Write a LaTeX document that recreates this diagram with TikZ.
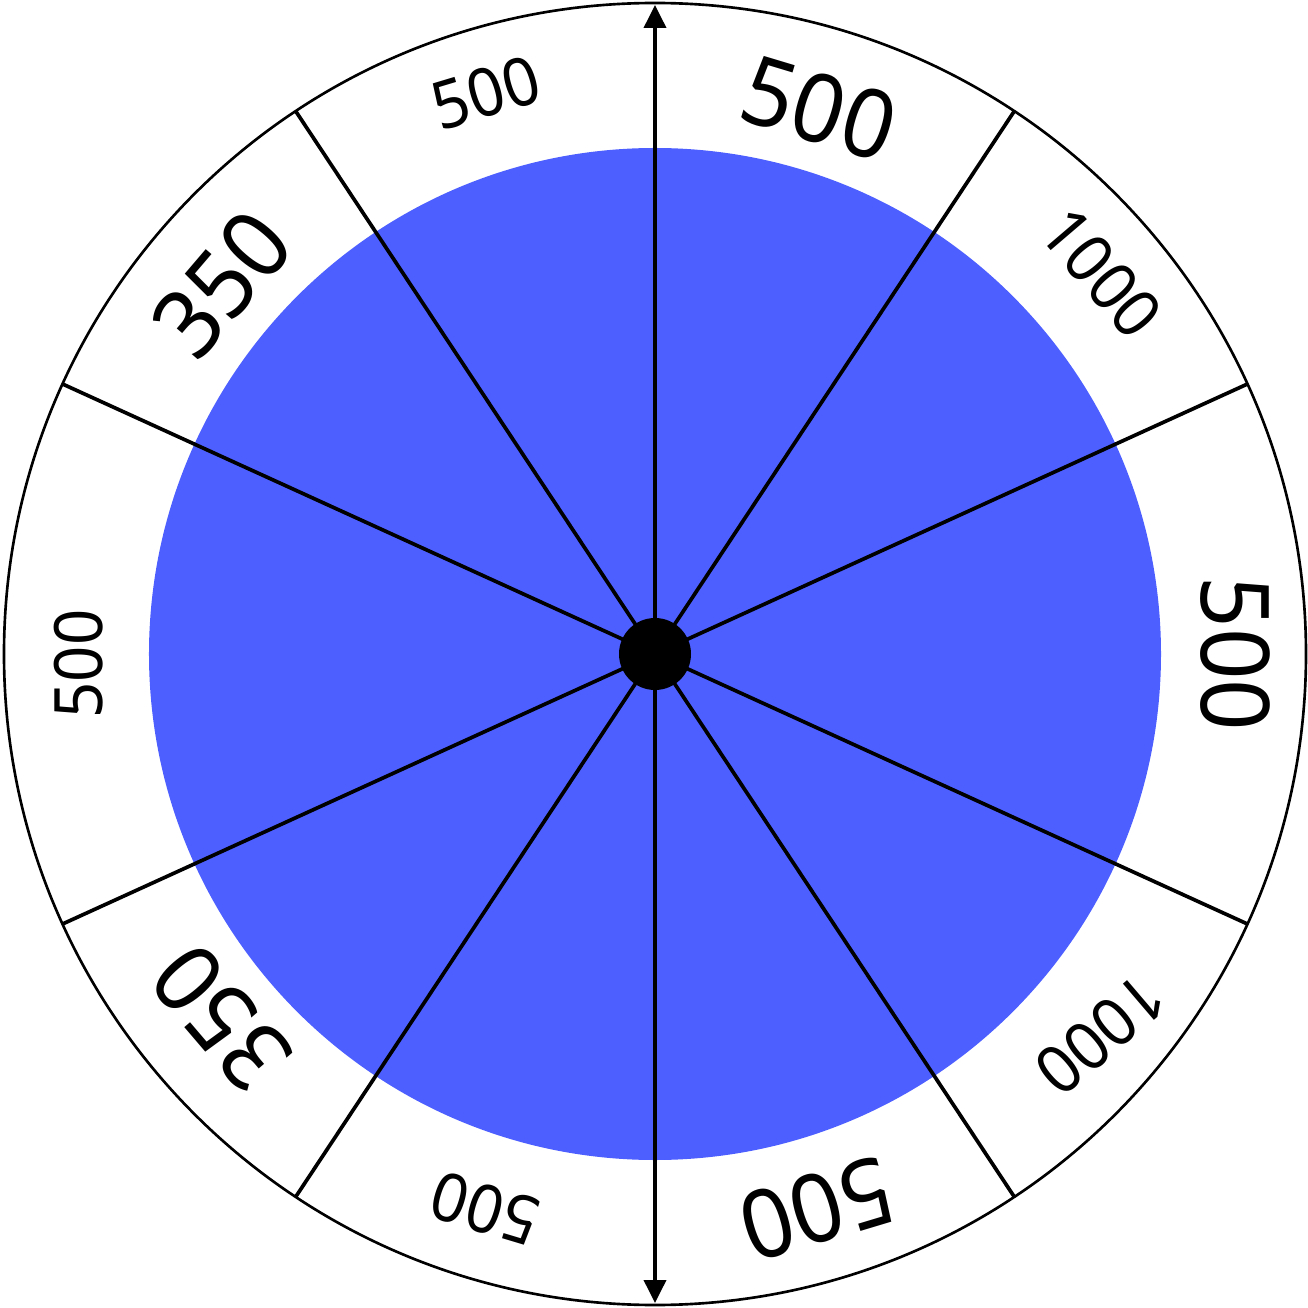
\documentclass[tikz,border=0pt]{standalone}
\usepackage{fontspec}
\setmainfont{Noto Sans}
\usetikzlibrary{arrows.meta}
\definecolor{wheelblue}{RGB}{77,96,255}

\begin{document}
\begin{tikzpicture}[
  spoke/.style={black, line width=1.05pt},
  bignum/.style={font=\fontsize{27}{27}\selectfont, inner sep=0pt},
  smallnum/.style={font=\fontsize{19}{19}\selectfont, inner sep=0pt}]
  \useasboundingbox (-6.55,-6.54) rectangle (6.53,6.54);
  \fill[wheelblue] (0,0) circle (5.06);
  \draw[black, line width=0.75pt] (0,0) circle (6.51);
  \coordinate (n) at (90:6.49);
  \coordinate (s) at (270:6.49);
  \coordinate (ne) at (56.5:6.51);
  \coordinate (sw) at (236.5:6.51);
  \coordinate (nw) at (123.5:6.51);
  \coordinate (se) at (303.5:6.51);
  \coordinate (ene) at (24.5:6.51);
  \coordinate (wsw) at (204.5:6.51);
  \coordinate (wnw) at (155.5:6.51);
  \coordinate (ese) at (335.5:6.51);
  \draw[spoke, {Triangle[length=2.3mm,width=2.2mm]}-{Triangle[length=2.3mm,width=2.2mm]}] (s) -- (n);
  \draw[spoke] (ne) -- (sw);
  \draw[spoke] (nw) -- (se);
  \draw[spoke] (ene) -- (wsw);
  \draw[spoke] (wnw) -- (ese);
  \node[circle, fill=black, inner sep=0pt, minimum size=0.72cm] (hub) at (0,0) {};
  % labels
  \node[bignum, rotate=-16.75, xscale=0.95] (topright) at (73.25:5.70) {500};
  \node[smallnum, rotate=16.75, xscale=0.95] (topleft) at (106.75:5.86) {500};
  \node[smallnum, rotate=-49.5, xscale=0.95] (upright) at (40.5:5.87) {1000};
  \node[bignum, rotate=49.5, xscale=0.95] (upleft) at (139.5:5.70) {350};
  \node[bignum, rotate=-90, xscale=0.95] (right) at (0:5.80) {500};
  \node[smallnum, rotate=90, xscale=0.95] (left) at (181:5.76) {500};
  \node[smallnum, rotate=-139.5, xscale=0.95] (lowright) at (-40.5:5.86) {1000};
  \node[bignum, rotate=130.5, xscale=0.95] (lowleft) at (-140:5.66) {350};
  \node[bignum, rotate=-163.25, xscale=0.95] (botright) at (-73.75:5.78) {500};
  \node[smallnum, rotate=163.25, xscale=0.95] (botleft) at (-107:5.80) {500};
\end{tikzpicture}
\end{document}
